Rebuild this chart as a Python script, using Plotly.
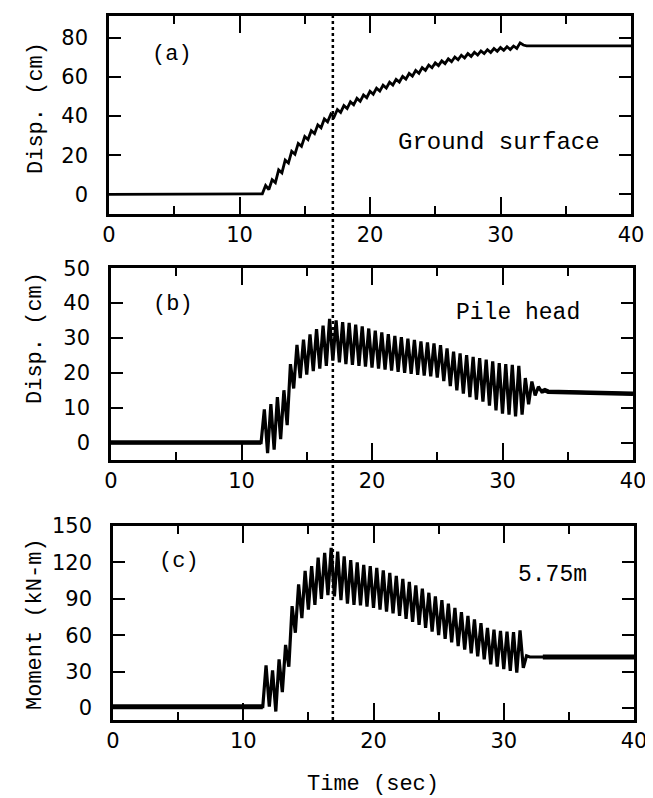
import plotly.graph_objects as go

# ---------------- DATA ----------------
time_s = [0, 11.5,
          11.75, 12.0, 12.25, 12.5, 12.75, 13.0, 13.25, 13.5, 13.75, 14.0,
          14.25, 14.5, 14.75, 15.0, 15.25, 15.5, 15.75, 16.0, 16.25, 16.5,
          16.75, 17.0, 17.25, 17.5, 17.75, 18.0, 18.25, 18.5, 18.75, 19.0,
          19.25, 19.5, 19.75, 20.0, 20.25, 20.5, 20.75, 21.0, 21.25, 21.5,
          21.75, 22.0, 22.25, 22.5, 22.75, 23.0, 23.25, 23.5, 23.75, 24.0,
          24.25, 24.5, 24.75, 25.0, 25.25, 25.5, 25.75, 26.0, 26.25, 26.5,
          26.75, 27.0, 27.25, 27.5, 27.75, 28.0, 28.25, 28.5, 28.75, 29.0,
          29.25, 29.5, 29.75, 30.0, 30.25, 30.5, 30.75, 31.0, 31.25, 31.5,
          31.75, 32.0, 32.25, 32.5, 32.75, 33.0, 33.25, 33.5,
          40]

ground_disp_cm = [0, 0,
          0.3, 4.5, 2.5, 7.5, 6.0, 12.5, 11.0, 17.5, 16.0, 22.0,
          20.5, 26.0, 24.5, 29.5, 28.0, 32.5, 31.0, 35.5, 34.0, 38.5,
          37.0, 41.0, 39.5, 43.3, 41.8, 45.3, 43.8, 47.2, 45.7, 49.0,
          47.5, 50.7, 49.3, 52.6, 51.1, 54.2, 52.7, 55.7, 54.2, 57.2,
          55.8, 58.7, 57.3, 60.2, 58.8, 61.7, 60.3, 63.2, 61.8, 64.7,
          63.3, 66.0, 64.6, 67.1, 65.7, 68.1, 66.7, 69.1, 67.7, 70.1,
          68.7, 71.0, 69.6, 71.8, 70.4, 72.5, 71.1, 73.2, 71.8, 73.8,
          72.4, 74.4, 73.0, 74.9, 73.5, 75.3, 73.9, 75.7, 74.5, 77.3,
          76.2, 75.8, 75.8, 75.8, 75.8, 75.8, 75.8, 75.8,
          75.8]

pile_disp_cm = [0, 0,
          9.5, -3.0, 11.0, -2.0, 13.0, 1.0, 15.0, 5.0, 22.5, 15.5,
          28.0, 18.5, 29.5, 19.5, 31.0, 20.5, 32.5, 21.2, 33.5, 22.0,
          35.5, 23.5, 35.0, 23.0, 34.5, 22.5, 34.3, 22.3, 33.8, 22.0,
          33.3, 21.8, 32.7, 21.5, 32.1, 21.2, 31.6, 20.9, 31.1, 20.6,
          30.6, 20.3, 30.2, 20.0, 29.8, 19.7, 29.4, 19.4, 29.0, 19.2,
          28.7, 19.0, 28.4, 18.6, 27.9, 17.6, 27.0, 16.2, 26.1, 15.0,
          25.6, 14.0, 25.1, 13.0, 24.6, 12.3, 24.2, 11.7, 23.8, 10.6,
          23.3, 9.2, 22.8, 8.3, 22.5, 8.0, 22.3, 7.5, 22.0, 8.0,
          18.5, 11.0, 17.5, 13.5, 16.0, 14.6, 15.0, 14.6,
          14.0]

moment_knm = [1, 1,
          35, 1, 31, -3, 40, 13, 52, 34, 84, 62,
          102, 74, 113, 81, 117, 85, 124, 90, 128, 93,
          132, 92, 129, 89, 125, 86, 122, 85, 120, 84.5,
          118, 83.5, 117, 82.5, 115.5, 81, 113.5, 79.5, 111.5, 78,
          109, 76, 106.5, 73.5, 104, 71, 101, 68.5, 98.5, 66,
          95, 63, 92, 60, 89, 57, 86, 54, 82.5, 51,
          79, 48, 76, 45, 73, 42.5, 70, 40, 66, 36,
          64.5, 34, 63.5, 32, 63, 30.5, 62.5, 29, 64, 33,
          43, 42, 42, 42, 42, 42, 42, 42,
          42]

marker_time_s = 17
x_ticks = [0, 10, 20, 30, 40]
ya_ticks = [0, 20, 40, 60, 80]
yb_ticks = [0, 10, 20, 30, 40, 50]
yc_ticks = [0, 30, 60, 90, 120, 150]

assert len(time_s) == len(ground_disp_cm) == len(pile_disp_cm) == len(moment_knm)

# quiet (noisy baseline) parts drawn with a thicker pen
quiet_pre = [i for i, t in enumerate(time_s) if t <= 11.5]
quiet_post = [i for i, t in enumerate(time_s) if t >= 33.0]

W, H = 653, 798
TXT = "Liberation Mono"
NUM = "DejaVu Sans"

fig = go.Figure()
fig.add_trace(go.Scatter(x=time_s, y=ground_disp_cm, mode="lines",
                         line=dict(color="black", width=2.8), xaxis="x", yaxis="y"))
fig.add_trace(go.Scatter(x=time_s, y=pile_disp_cm, mode="lines",
                         line=dict(color="black", width=3.2), xaxis="x2", yaxis="y2"))
fig.add_trace(go.Scatter(x=time_s, y=moment_knm, mode="lines",
                         line=dict(color="black", width=3.2), xaxis="x3", yaxis="y3"))
for seg in (quiet_pre, quiet_post):
    fig.add_trace(go.Scatter(x=[time_s[i] for i in seg], y=[pile_disp_cm[i] for i in seg],
                             mode="lines", line=dict(color="black", width=4.5),
                             xaxis="x2", yaxis="y2"))
    fig.add_trace(go.Scatter(x=[time_s[i] for i in seg], y=[moment_knm[i] for i in seg],
                             mode="lines", line=dict(color="black", width=5),
                             xaxis="x3", yaxis="y3"))


def px_dom_x(a, b):
    return [a / W, b / W]


def px_dom_y(top, bottom):
    return [1 - bottom / H, 1 - top / H]


def xax(dom, anchor, standoff):
    return dict(domain=dom, anchor=anchor, range=[0, 40], tickvals=x_ticks,
                ticks="inside", ticklen=17, tickwidth=2, tickcolor="black",
                minor=dict(dtick=5, tick0=0, ticks="inside", ticklen=8, tickwidth=2,
                           tickcolor="black"),
                showline=True, linewidth=2.5, linecolor="black", mirror="ticks",
                showgrid=False, zeroline=False, automargin=False,
                tickfont=dict(family=NUM, size=21, color="black"),
                ticklabelstandoff=standoff)


def yax(dom, anchor, rng, vals):
    return dict(domain=dom, anchor=anchor, range=rng, tickvals=vals,
                ticks="inside", ticklen=12, tickwidth=2, tickcolor="black",
                showline=True, linewidth=2.5, linecolor="black", mirror="ticks",
                showgrid=False, zeroline=False, automargin=False,
                tickfont=dict(family=NUM, size=21, color="black"),
                ticklabelstandoff=14)


fig.update_layout(
    width=W, height=H, margin=dict(l=0, r=0, t=0, b=0, autoexpand=False),
    paper_bgcolor="white", plot_bgcolor="white", showlegend=False,
    xaxis=xax(px_dom_x(101, 623), "y", 0),
    yaxis=yax(px_dom_y(8, 206), "x", [-10, 91], ya_ticks),
    xaxis2=xax(px_dom_x(103, 625), "y2", 0),
    yaxis2=yax(px_dom_y(260, 452), "x2", [-5, 50.05], yb_ticks),
    xaxis3=xax(px_dom_x(105, 626), "y3", 0),
    yaxis3=yax(px_dom_y(518, 712), "x3", [-10, 150.1], yc_ticks),
)

fig.add_shape(type="line", xref="x2", yref="paper", x0=marker_time_s, x1=marker_time_s,
              y0=1 - 712 / H, y1=1 - 8 / H,
              line=dict(color="black", width=2.5, dash="dot"))


def ann(text, x, y, size=22, angle=0):
    fig.add_annotation(text=text, xref="paper", yref="paper", x=x / W, y=1 - y / H,
                       xanchor="center", yanchor="middle", showarrow=False,
                       textangle=angle, font=dict(family=TXT, size=size, color="black"))


ann("(a)", 164, 46)
ann("Ground surface", 491, 134, size=24)
ann("(b)", 165, 296)
ann("Pile head", 510, 305, size=23)
ann("(c)", 171, 553)
ann("5.75m", 544, 567, size=23)
ann("Disp. (cm)", 28, 100, angle=-90)
ann("Disp. (cm)", 28, 330, angle=-90)
ann("Moment (kN-m)", 27, 616, angle=-90)
ann("Time (sec)", 365, 776)

fig.write_html("out.html")
